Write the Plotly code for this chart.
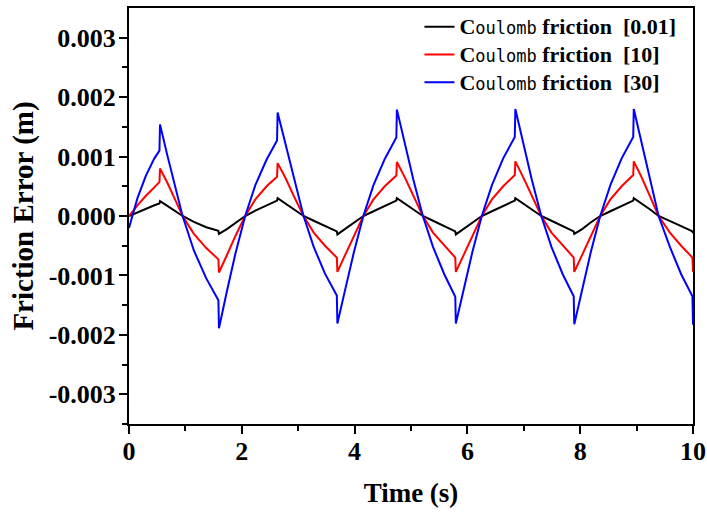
import numpy as np
import plotly.graph_objects as go

# Time (s)
time_s = [0, 0.05, 0.15, 0.3, 0.45, 0.54,
          0.55, 0.68, 0.82, 0.95, 1.15, 1.37, 1.585,
          1.595, 1.735, 1.885, 2.06, 2.24, 2.44, 2.625,
          2.635, 2.775, 2.925, 3.095, 3.275, 3.475, 3.685,
          3.695, 3.835, 3.985, 4.155, 4.335, 4.535, 4.74,
          4.75, 4.89, 5.04, 5.21, 5.39, 5.59, 5.785,
          5.795, 5.935, 6.085, 6.255, 6.435, 6.635, 6.84,
          6.85, 6.99, 7.14, 7.31, 7.49, 7.69, 7.885,
          7.895, 8.035, 8.185, 8.355, 8.535, 8.735, 8.94,
          8.95, 9.09, 9.24, 9.39, 9.59, 9.79, 9.99,
          10.0]

# Friction error, in units of 1e-3 m
err_001 = [0.0, 0.02, 0.07, 0.13, 0.18, 0.21,
           0.25, 0.17, 0.08, 0.0, -0.10, -0.19, -0.25,
           -0.30, -0.22, -0.12, 0.0, 0.09, 0.18, 0.26,
           0.30, 0.21, 0.11, 0.0, -0.08, -0.17, -0.26,
           -0.31, -0.22, -0.11, 0.0, 0.08, 0.17, 0.26,
           0.30, 0.21, 0.11, 0.0, -0.08, -0.17, -0.26,
           -0.31, -0.22, -0.11, 0.0, 0.08, 0.17, 0.26,
           0.30, 0.21, 0.11, 0.0, -0.08, -0.17, -0.26,
           -0.30, -0.22, -0.11, 0.0, 0.08, 0.17, 0.26,
           0.30, 0.21, 0.11, 0.0, -0.08, -0.17, -0.26,
           -0.29]

err_10 = [0.0, 0.06, 0.18, 0.34, 0.49, 0.57,
          0.80, 0.56, 0.27, 0.0, -0.30, -0.54, -0.73,
          -0.95, -0.66, -0.34, 0.0, 0.28, 0.50, 0.66,
          0.89, 0.64, 0.33, 0.0, -0.28, -0.50, -0.70,
          -0.94, -0.65, -0.34, 0.0, 0.28, 0.50, 0.68,
          0.91, 0.65, 0.34, 0.0, -0.28, -0.50, -0.70,
          -0.94, -0.65, -0.34, 0.0, 0.28, 0.50, 0.69,
          0.92, 0.65, 0.34, 0.0, -0.28, -0.50, -0.70,
          -0.94, -0.65, -0.34, 0.0, 0.28, 0.50, 0.69,
          0.92, 0.65, 0.34, 0.0, -0.28, -0.50, -0.70,
          -0.94]

err_30 = [-0.20, -0.03, 0.30, 0.68, 0.97, 1.10,
          1.54, 1.02, 0.50, 0.0, -0.58, -1.05, -1.42,
          -1.89, -1.27, -0.64, 0.0, 0.52, 0.95, 1.27,
          1.74, 1.20, 0.61, 0.0, -0.52, -0.97, -1.34,
          -1.81, -1.23, -0.62, 0.0, 0.52, 0.96, 1.32,
          1.79, 1.22, 0.62, 0.0, -0.52, -0.98, -1.36,
          -1.81, -1.23, -0.62, 0.0, 0.52, 0.97, 1.33,
          1.80, 1.22, 0.62, 0.0, -0.52, -0.98, -1.35,
          -1.82, -1.23, -0.62, 0.0, 0.52, 0.97, 1.33,
          1.80, 1.22, 0.62, 0.0, -0.52, -0.98, -1.35,
          -1.83]

series_labels = ["[0.01]", "[10]", "[30]"]
series_colors = ["#000000", "#ff0000", "#0000ff"]

y_tickvals = [-0.003, -0.002, -0.001, 0.0, 0.001, 0.002, 0.003]
y_ticktext = ["-0.003", "-0.002", "-0.001", "0.000", "0.001", "0.002", "0.003"]
x_tickvals = [0, 2, 4, 6, 8, 10]
x_ticktext = ["0", "2", "4", "6", "8", "10"]

SERIF = "Liberation Serif"

def legend_name(tag):
    return ("<span style='font-size:22px'><b>C</b></span>"
            "<span style='font-family:DejaVu Sans Mono;font-weight:normal;font-size:17px'>oulomb</span>"
            "<span style='font-size:22px'> <b>friction</b>&nbsp;&nbsp;<b>" + tag + "</b></span>")

fig = go.Figure()
for vals, tag, col in zip([err_001, err_10, err_30], series_labels, series_colors):
    fig.add_trace(go.Scatter(
        x=time_s, y=np.array(vals) * 1e-3, mode="lines",
        line=dict(color=col, width=2), name=legend_name(tag)))

axis_common = dict(
    showline=True, linecolor="black", linewidth=2, mirror=True,
    showgrid=False, zeroline=False, automargin=False,
    ticks="outside", tickcolor="black", tickwidth=2, ticklen=8,
    tickfont=dict(family=SERIF, size=26, color="black", weight="bold"),
)

fig.update_layout(
    width=707, height=512,
    margin=dict(l=129, r=14, t=8, b=88),
    paper_bgcolor="white", plot_bgcolor="white",
    showlegend=True,
    legend=dict(x=0.515, y=1.0, xanchor="left", yanchor="top",
                bgcolor="rgba(0,0,0,0)", borderwidth=0,
                font=dict(family=SERIF, size=19, color="black"),
                tracegroupgap=0),
    xaxis=dict(range=[0, 10], tickvals=x_tickvals, ticktext=x_ticktext,
               ticklabelstandoff=-5,
               minor=dict(dtick=1, ticks="outside", ticklen=5, tickwidth=2, tickcolor="black"),
               title=dict(text="<b>Time (s)</b>", font=dict(family=SERIF, size=27, color="black"),
                          standoff=18),
               **axis_common),
    yaxis=dict(range=[-0.0035, 0.0035], tickvals=y_tickvals, ticktext=y_ticktext,
               ticklabelstandoff=-2,
               minor=dict(tickvals=[-0.0035, -0.0025, -0.0015, -0.0005, 0.0005, 0.0015, 0.0025],
                          ticks="outside", ticklen=5, tickwidth=2, tickcolor="black"),
               title=dict(text="<b>Friction Error (m)</b>", font=dict(family=SERIF, size=29, color="black"),
                          standoff=6),
               **axis_common),
)

fig.write_html("out.html")
